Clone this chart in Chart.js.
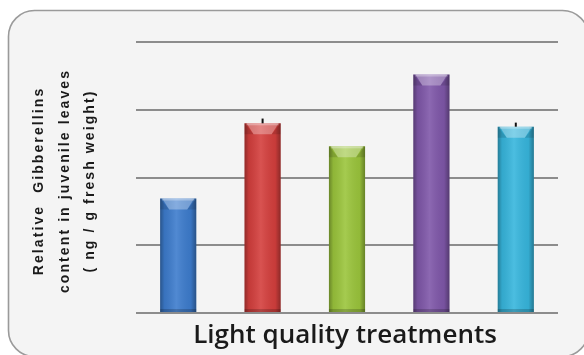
<!DOCTYPE html>
<html>
<head>
<meta charset="utf-8">
<script src="https://cdn.jsdelivr.net/npm/chart.js@4/dist/chart.umd.min.js"></script>
<style>
  html, body { margin: 0; padding: 0; background: #ffffff; }
  #wrap { width: 584px; height: 355px; position: relative; }
</style>
</head>
<body>
<div id="wrap"><canvas id="c" width="584" height="355"></canvas></div>
<script>
// Relative gibberellin content per light-quality treatment
const treatments = ["T1", "T2", "T3", "T4", "T5"];
const gibberellins = [1.69, 2.80, 2.46, 3.52, 2.75];
const errorPlus = [0, 0.07, 0, 0, 0.06];
const yTicks = [0, 1, 2, 3, 4];
const yTitleLines = ["Relative  Gibberellins", "content in juvenile leaves", "( ng / g fresh weight)"];
const xTitle = "Light quality treatments";

const barColors = ["#3d7ccd", "#d43f3d", "#9bc53c", "#7f57a9", "#37b6dd"];

// Rounded panel behind the plot
const panel = {
  id: "panel",
  beforeDraw(chart) {
    const ctx = chart.ctx;
    ctx.save();
    ctx.fillStyle = "#ffffff";
    ctx.fillRect(0, 0, chart.width, chart.height);
    ctx.beginPath();
    ctx.roundRect(8.5, 10.5, 580, 346, 26);
    ctx.fillStyle = "#f4f4f4";
    ctx.fill();
    ctx.lineWidth = 1.6;
    ctx.strokeStyle = "#9a9a9a";
    ctx.stroke();
    ctx.restore();
  }
};

// Cylinder-style shading, top bevel and plus error caps on each bar
const barShading = {
  id: "barShading",
  afterDatasetsDraw(chart) {
    const ctx = chart.ctx;
    const meta = chart.getDatasetMeta(0);
    const yScale = chart.scales.y;
    meta.data.forEach((bar, i) => {
      const p = bar.getProps(["x", "y", "base", "width"], true);
      const l = p.x - p.width / 2, r = p.x + p.width / 2;
      ctx.save();
      const g = ctx.createLinearGradient(l, 0, r, 0);
      g.addColorStop(0, "rgba(0,0,0,0.32)");
      g.addColorStop(0.12, "rgba(0,0,0,0.08)");
      g.addColorStop(0.45, "rgba(255,255,255,0.10)");
      g.addColorStop(0.85, "rgba(0,0,0,0.06)");
      g.addColorStop(1, "rgba(0,0,0,0.34)");
      ctx.fillStyle = g;
      ctx.fillRect(l, p.y, p.width, p.base - p.y);
      // darker side corners of the top bevel
      ctx.fillStyle = "rgba(0,0,0,0.12)";
      ctx.beginPath();
      ctx.moveTo(l, p.y); ctx.lineTo(l + 9, p.y + 11); ctx.lineTo(l, p.y + 11); ctx.closePath();
      ctx.moveTo(r, p.y); ctx.lineTo(r - 9, p.y + 11); ctx.lineTo(r, p.y + 11); ctx.closePath();
      ctx.fill();
      // light bevel face
      ctx.beginPath();
      ctx.moveTo(l + 2, p.y);
      ctx.lineTo(r - 2, p.y);
      ctx.lineTo(p.x + 9, p.y + 11);
      ctx.lineTo(p.x - 9, p.y + 11);
      ctx.closePath();
      ctx.fillStyle = "rgba(255,255,255,0.30)";
      ctx.fill();
      ctx.fillStyle = "rgba(255,255,255,0.30)";
      ctx.fillRect(l + 2, p.y, p.width - 4, 2);
      // bottom edge
      ctx.fillStyle = "rgba(0,0,0,0.18)";
      ctx.fillRect(l, p.base - 3, p.width, 3);
      // error cap
      if (errorPlus[i] > 0) {
        const yTop = yScale.getPixelForValue(gibberellins[i] + errorPlus[i]);
        ctx.beginPath();
        ctx.moveTo(p.x, p.y);
        ctx.lineTo(p.x, yTop);
        ctx.lineWidth = 2;
        ctx.strokeStyle = "#111111";
        ctx.stroke();
      }
      ctx.restore();
    });
  }
};

// Axis titles
const axisTitles = {
  id: "axisTitles",
  afterDraw(chart) {
    const ctx = chart.ctx;
    const area = chart.chartArea;
    ctx.save();
    ctx.fillStyle = "#1a1a1a";
    ctx.textAlign = "center";
    ctx.textBaseline = "middle";
    ctx.font = "600 26px 'Open Sans'";
    ctx.fillText(xTitle, 345, 336);
    ctx.translate(65, 181);
    ctx.rotate(-Math.PI / 2);
    ctx.font = "bold 14px 'Liberation Sans'";
    ctx.letterSpacing = "2.1px";
    yTitleLines.forEach((line, k) => {
      ctx.fillText(line, 0, (k - 1) * 25.5);
    });
    ctx.restore();
  }
};

new Chart(document.getElementById("c"), {
  type: "bar",
  data: {
    labels: treatments,
    datasets: [{
      data: gibberellins,
      backgroundColor: barColors,
      borderWidth: 0,
      barPercentage: 0.428,
      categoryPercentage: 1.0
    }]
  },
  options: {
    responsive: false,
    animation: false,
    devicePixelRatio: 1,
    layout: { padding: { left: 136, right: 26, top: 42, bottom: 42 } },
    plugins: { legend: { display: false }, tooltip: { enabled: false } },
    scales: {
      x: {
        display: true,
        grid: { display: false, drawTicks: false },
        border: { display: false },
        ticks: { display: false }
      },
      y: {
        min: yTicks[0],
        max: yTicks[yTicks.length - 1],
        afterBuildTicks(scale) { scale.ticks = yTicks.map(v => ({ value: v })); },
        grid: { color: "#8c8c8c", lineWidth: 2, drawTicks: false },
        border: { display: false },
        ticks: { display: false }
      }
    }
  },
  plugins: [panel, barShading, axisTitles]
});
</script>
</body>
</html>
